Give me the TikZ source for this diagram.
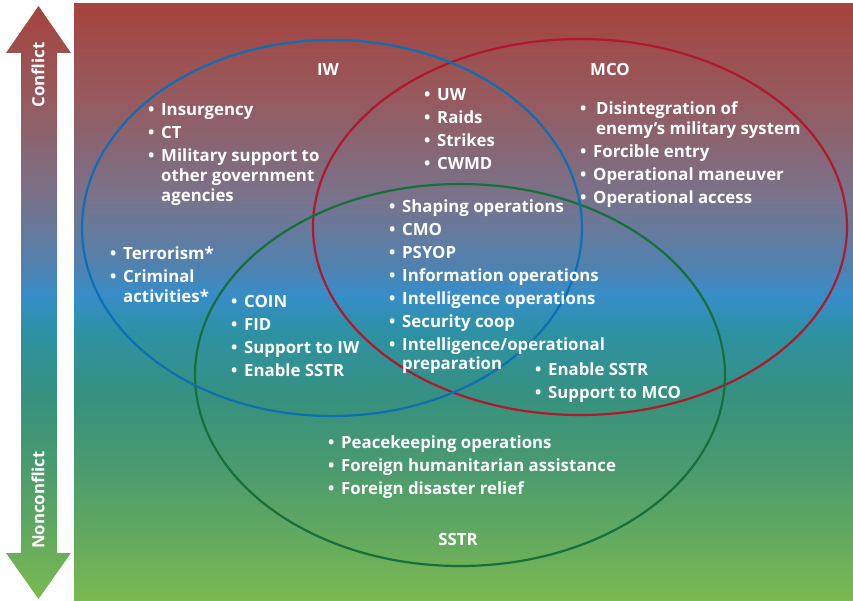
\documentclass[tikz,border=0pt]{standalone}
\usepackage{fontspec}
\setmainfont{Open Sans}
\usepackage{tikz}
% colours of the background shading (bottom to top)
\definecolor{shA}{HTML}{7BBA50}
\definecolor{shB}{HTML}{64AA5F}
\definecolor{shC}{HTML}{4B9B6E}
\definecolor{shD}{HTML}{37917D}
\definecolor{shE}{HTML}{2D91A5}
\definecolor{shF}{HTML}{378DC8}
\definecolor{shG}{HTML}{5082AF}
\definecolor{shH}{HTML}{78738C}
\definecolor{shI}{HTML}{965A5F}
\definecolor{shJ}{HTML}{A5443E}
\definecolor{iwblue}{HTML}{0E6FB4}
\definecolor{mcored}{HTML}{B0182E}
\definecolor{sstrgreen}{HTML}{17703C}
\pgfdeclareverticalshading{conflictshade}{100bp}{%
  color(0bp)=(shA); color(25bp)=(shA); color(30.1bp)=(shB);
  color(36bp)=(shC); color(41.8bp)=(shD); color(47.7bp)=(shE);
  color(50.6bp)=(shF); color(53.1bp)=(shG); color(58.6bp)=(shH);
  color(67bp)=(shI); color(75bp)=(shJ); color(100bp)=(shJ)}
\newcommand{\itm}{\makebox[13pt][l]{\textbullet}}
\newcommand{\hng}{\hspace*{13pt}}

\begin{document}
\begin{tikzpicture}[x=1pt,y=-1pt,
    lbl/.style={text=white,inner sep=0pt,
      font=\bfseries\fontsize{16.8}{23}\selectfont},
    itemlist/.style={lbl,align=left,anchor=north west},
    venn/.style={line width=2.2pt}]
        \useasboundingbox (0,0) rectangle (853,601);

        % Background
        \shade[shading=conflictshade] (74,4) rectangle (853,601);

        % Conflict / nonconflict arrow
        \shade[shading=conflictshade] (38.5,6) -- (71,53) -- (57,53)
          -- (57,553) -- (71,553) -- (38.5,599) -- (6,553) -- (21,553)
          -- (21,53) -- (6,53) -- cycle;
        \node[lbl,rotate=90] (conflict) at (38,75) {Conflict};
        \node[lbl,rotate=90] (nonconflict) at (38,500) {Nonconflict};

        % The three circles
        \draw[venn,mcored] (580,227) ellipse [x radius=267, y radius=188];
        \draw[venn,sstrgreen] (460,375) ellipse [x radius=265, y radius=191];
        \draw[venn,iwblue] (332,228) ellipse [x radius=250, y radius=188];

        % Circle names
        \node[lbl] (iw) at (328,70) {IW};
        \node[lbl] (mco) at (610,69) {MCO};
        \node[lbl] (sstr) at (458,539) {SSTR};

        % IW only
        \node[itemlist] (iwlist) at (148,99.5) {\strut\itm Insurgency\\
          \itm CT\\ \itm Military support to\\[-3pt]
          \hng other government\\[-3pt] \hng agencies};
        \node[itemlist] (crimelist) at (110,243.5) {\strut\itm Terrorism*\\
          \itm Criminal\\[-3pt] \hng activities*};

        % IW and MCO
        \node[itemlist] (uwlist) at (424,84.5) {\strut\itm UW\\ \itm Raids\\
          \itm Strikes\\ \itm CWMD};

        % MCO only
        \node[itemlist] (mcolist) at (580,98.5) {\strut\itm\hspace{3pt}Disintegration of\\[-3pt]
          \hng\hspace{3pt}enemy’s military system\\ \itm Forcible entry\\
          \itm Operational maneuver\\ \itm Operational access};

        % All three
        \node[itemlist] (alllist) at (389,196.5) {\strut\itm Shaping operations\\
          \itm CMO\\ \itm PSYOP\\ \itm Information operations\\
          \itm Intelligence operations\\ \itm Security coop\\
          \itm Intelligence/operational\\[-4pt] \hng preparation};

        % IW and SSTR
        \node[itemlist] (coinlist) at (231,291.5) {\strut\itm COIN\\ \itm FID\\
          \itm Support to IW\\ \itm Enable SSTR};

        % MCO and SSTR
        \node[itemlist] (supportlist) at (535,359.5) {\strut\itm Enable SSTR\\
          \itm Support to MCO};

        % SSTR only
        \node[itemlist] (sstrlist) at (328,432.5) {\strut\itm Peacekeeping operations\\
          \itm Foreign humanitarian assistance\\ \itm Foreign disaster relief};
\end{tikzpicture}
\end{document}
